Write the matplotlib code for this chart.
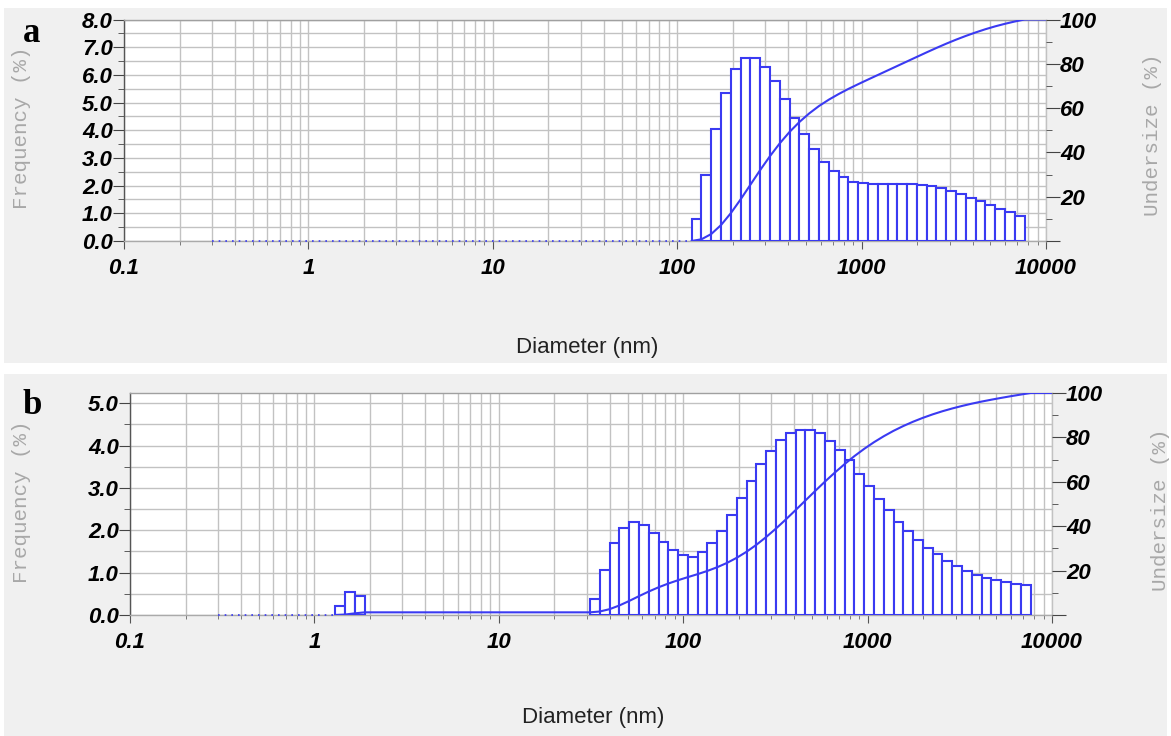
import matplotlib.pyplot as plt
import matplotlib.patches as mpatches
from matplotlib.ticker import FixedLocator, NullFormatter, FuncFormatter
import numpy as np

# channel grid of the analyser (log spaced, same for both samples)
CH_FIRST_EDGE = 1.30      # nm, lower edge of channel 0
CH_LOG_STEP = 0.0531      # decades per channel
N_CH = 71

# sample a: channels 37..70
a_start = 37
freq_a = [0.78, 2.38, 4.06, 5.36, 6.22, 6.62, 6.62, 6.28, 5.77, 5.14,
          4.46, 3.86, 3.34, 2.86, 2.53, 2.32, 2.14, 2.08, 2.05, 2.05,
          2.05, 2.05, 2.05, 2.04, 1.99, 1.92, 1.81, 1.69, 1.57, 1.45,
          1.30, 1.15, 1.03, 0.90]

# sample b: small peak in channels 0..2, main population 26..70
b_small_start = 0
freq_b_small = [0.22, 0.55, 0.45]
b_start = 26
freq_b = [0.38, 1.07, 1.69, 2.06, 2.20, 2.12, 1.94, 1.72, 1.53, 1.41,
          1.37, 1.48, 1.69, 1.98, 2.36, 2.76, 3.17, 3.57, 3.87, 4.14,
          4.30, 4.37, 4.37, 4.29, 4.10, 3.89, 3.65, 3.33, 3.04, 2.74,
          2.48, 2.20, 1.98, 1.77, 1.59, 1.43, 1.27, 1.15, 1.05, 0.95,
          0.87, 0.82, 0.78, 0.74, 0.71]

xtick_vals = [0.1, 1, 10, 100, 1000, 10000]
right_ticks = [20, 40, 60, 80, 100]

BLUE = '#3a3af2'
GRID = '#c2c2c2'
BG = '#f0f0f0'

plt.rcParams['font.family'] = ['Liberation Sans', 'DejaVu Sans']
plt.rcParams['font.weight'] = 'bold'
plt.rcParams['font.style'] = 'italic'

edges = CH_FIRST_EDGE * 10 ** (CH_LOG_STEP * np.arange(N_CH + 1))


def full_channels(parts):
    f = np.zeros(N_CH)
    for start, vals in parts:
        f[start:start + len(vals)] = vals
    return f


def draw_panel(ax, freq, ymax, yticks_max, letter, lab_y, und_x, diam_xy):
    nz = np.nonzero(freq)[0]
    left = edges[:-1][nz]
    width = edges[1:][nz] - left
    ax.bar(left, freq[nz], width=width, align='edge', facecolor='white',
           edgecolor=BLUE, linewidth=1.5, zorder=3)
    first = edges[nz[0]]
    ax.plot([0.3, first], [0, 0], color=BLUE, lw=1.2, ls=(0, (1, 3)),
            zorder=4, clip_on=False)

    ax.set_xscale('log')
    ax.set_xlim(0.1, 10000)
    ax.set_ylim(0, ymax)
    ax.xaxis.set_major_locator(FixedLocator(xtick_vals))
    ax.xaxis.set_major_formatter(FuncFormatter(lambda v, p: '%g' % v))
    ax.xaxis.set_minor_formatter(NullFormatter())
    ax.yaxis.set_major_locator(FixedLocator(np.arange(0, yticks_max + 0.01, 1.0)))
    ax.yaxis.set_minor_locator(FixedLocator(np.arange(0.5, yticks_max, 1.0)))
    ax.yaxis.set_major_formatter(FuncFormatter(lambda v, p: '%.1f' % v))
    ax.grid(True, which='both', color=GRID, lw=1.0, zorder=0)
    ax.set_axisbelow(True)
    ax.tick_params(axis='x', which='major', direction='out', length=6,
                   color='#555555', labelsize=16, pad=6)
    ax.tick_params(axis='x', which='minor', direction='out', length=3,
                   color='#666666')
    ax.tick_params(axis='y', which='major', direction='out', length=8,
                   color='#444444', labelsize=16, pad=0)
    ax.tick_params(axis='y', which='minor', direction='out', length=4,
                   color='#444444')
    ax.spines['left'].set_color('#555555')
    ax.spines['bottom'].set_color('#aaaaaa')
    ax.spines['top'].set_color('#a0a0a0')
    ax.spines['right'].set_color(GRID)
    for s in ax.spines.values():
        s.set_linewidth(1.0)

    # cumulative undersize on the right axis
    cum = np.concatenate([[0], np.cumsum(freq) / freq.sum() * 100])
    k0 = nz[0]
    xs = np.concatenate([edges[k0:], [10000]])
    ys = np.concatenate([cum[k0:], [100]])
    ax2 = ax.twinx()
    ax2.plot(xs, ys, color=BLUE, lw=1.5, zorder=5)
    ax2.set_ylim(0, 100)
    ax2.yaxis.set_major_locator(FixedLocator([0] + right_ticks))
    ax2.yaxis.set_minor_locator(FixedLocator([10, 30, 50, 70, 90]))
    ax2.yaxis.set_major_formatter(FuncFormatter(lambda v, p: '' if v == 0 else '%d' % v))
    ax2.tick_params(axis='y', which='major', direction='out', length=10,
                    color='#444444', labelsize=16, pad=0)
    ax2.tick_params(axis='y', which='minor', direction='out', length=4,
                    color='#444444')
    for s in ax2.spines.values():
        s.set_visible(False)

    fig.text(32 / 1171, 1 - lab_y[0] / 736, letter, family='Liberation Serif',
             weight='bold', style='normal', fontsize=25, ha='center', va='center')
    fig.text(22 / 1171, 1 - lab_y[1] / 736, 'Frequency (%)', rotation=90,
             family='Liberation Mono', weight='normal', style='normal',
             fontsize=15, color='#a8a8a8', ha='center', va='center')
    fig.text(und_x[0] / 1171, 1 - und_x[1] / 736, 'Undersize (%)', rotation=90,
             family='Liberation Mono', weight='normal', style='normal',
             fontsize=15, color='#a8a8a8', ha='center', va='center')
    fig.text(diam_xy[0] / 1171, 1 - diam_xy[1] / 736, 'Diameter (nm)',
             weight='normal', style='normal', fontsize=16, color='#222222',
             ha='center', va='center')


fig = plt.figure(figsize=(11.71, 7.36), dpi=100)
fig.patch.set_facecolor('white')
fig.patches.append(mpatches.Rectangle((4 / 1171, 1 - 363 / 736), 1163 / 1171, 355 / 736,
                                      transform=fig.transFigure, facecolor=BG,
                                      edgecolor='none', zorder=-10))
fig.patches.append(mpatches.Rectangle((4 / 1171, 0), 1163 / 1171, 362 / 736,
                                      transform=fig.transFigure, facecolor=BG,
                                      edgecolor='none', zorder=-10))

ax_a = fig.add_axes([124 / 1171, 1 - 241 / 736, 922 / 1171, 221.5 / 736])
ax_b = fig.add_axes([130 / 1171, 1 - 615 / 736, 922 / 1171, 222 / 736])

fa = full_channels([(a_start, freq_a)])
fb = full_channels([(b_small_start, freq_b_small), (b_start, freq_b)])

draw_panel(ax_a, fa, 8.0, 8.0, 'a', (34, 128), (1153, 135), (587, 347))
draw_panel(ax_b, fb, 5.24, 5.0, 'b', (406, 502), (1160, 510), (593, 718))

fig.savefig('out.png', dpi=100, facecolor=fig.get_facecolor())
